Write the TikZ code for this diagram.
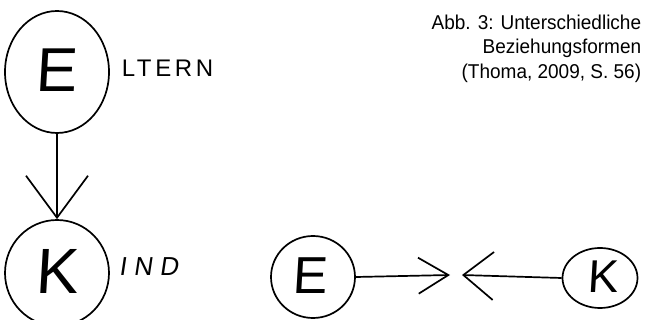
\documentclass[tikz,border=0pt]{standalone}
\usepackage{fontspec}
\setmainfont{Liberation Sans}
\newfontfamily\capfont{Liberation Sans}[FakeStretch=0.95]
\newfontfamily\handfont{Liberation Sans}[LetterSpace=15]
\newfontfamily\slanthand{Liberation Sans}[FakeSlant=0.15, LetterSpace=28]
\newfontfamily\letterfont{Liberation Sans}[FakeSlant=0.06]
\usetikzlibrary{shapes.geometric,arrows.meta}
\begin{document}
\begin{tikzpicture}[x=1pt,y=-1pt,
  line width=1.7pt,
  ring/.style={draw,ellipse,inner sep=0pt},
  initial/.style={font=\letterfont\fontsize{#1}{#1}\selectfont},
  word/.style={anchor=base west,inner sep=0pt},
]
\useasboundingbox (0,0) rectangle (648,320);

% parent above child
\node[ring,minimum width=104pt,minimum height=122pt] (E) at (57,72) {};
\node[initial=62] (Eletter) at (56,70) {E};
\node[word,font=\handfont\fontsize{24}{24}\selectfont] (Ew) at (121,77) {LTERN};

\node[ring,minimum width=104pt,minimum height=106pt] (K) at (57,273) {};
\node[initial=64] (Kletter) at (57,271) {K};
\node[word,font=\slanthand\fontsize{26}{26}\selectfont] (Kw) at (118,276) {IND};

\draw[-{Straight Barb[length=42pt,width=62pt,line width=1.7pt]}] (E.south) -- (K.north);

% parent and child facing each other
\node[ring,minimum width=84pt,minimum height=82pt] (E2) at (313,277) {};
\node[initial=52] (E2letter) at (310,276) {E};
\node[ring,minimum width=75pt,minimum height=60pt] (K2) at (600,278) {};
\node[initial=46] (K2letter) at (603,277) {K};

\coordinate (m1) at (450,275);
\coordinate (m2) at (462,275);
\draw[-{Straight Barb[length=30pt,width=36pt,line width=1.7pt]}] (E2.east) -- (m1);
\draw[-{Straight Barb[length=30pt,width=48pt,line width=1.7pt]}] (K2.west) -- (m2);

% caption
\node[anchor=north east,align=right,inner sep=0pt,
      font=\capfont\fontsize{20}{24.5}\selectfont] (cap) at (642,14)
  {Abb. 3: Unterschiedliche\\Beziehungsformen\\(Thoma, 2009, S. 56)};
\end{tikzpicture}
\end{document}
